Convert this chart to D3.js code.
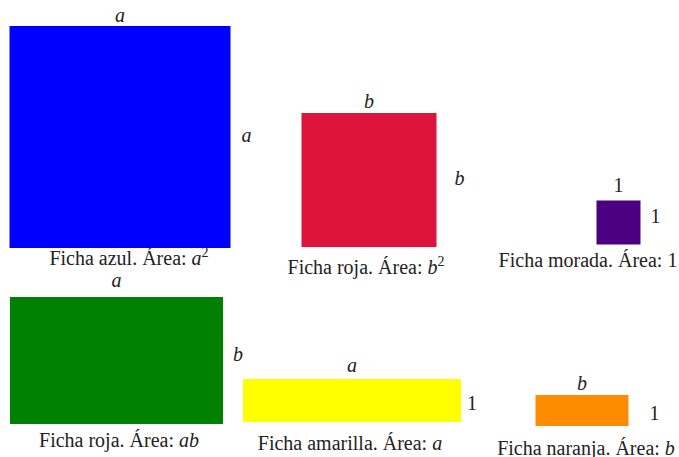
<!DOCTYPE html>
<html>
<head>
<meta charset="utf-8">
<script src="https://cdn.jsdelivr.net/npm/d3@7"></script>
<style>
  body { margin: 0; background: #fff; }
  svg { display: block; }
  text { font-family: "Liberation Serif", "Times New Roman", serif; fill: #222; }
  .var { font-style: italic; }
</style>
</head>
<body>
<svg id="chart" width="679" height="457"></svg>
<script>
// fichas (tiles) de algebra
var nombres = ["Ficha azul", "Ficha roja", "Ficha morada", "Ficha roja", "Ficha amarilla", "Ficha naranja"];
var colores = ["#0000ff", "#dc143c", "#4b0082", "#008000", "#ffff00", "#ff8c00"];
var anchos = [221, 135, 44, 213, 218, 93];
var altos = [222, 134, 44, 127, 43, 31];
var ladoSup = ["a", "b", "1", "a", "a", "b"];
var ladoDer = ["a", "b", "1", "b", "1", "1"];
var areaVar = ["a", "b", "1", "ab", "a", "b"];
var areaExp = ["2", "2", "", "", "", ""];

// layout: left, top of each tile, label offsets, caption position
var posX = [9.5, 301.5, 596.5, 10, 243, 535.5];
var posY = [26, 113, 200.5, 297, 379, 395];
var supDy = [4, 5, 9, 10, 7, 5];
var derDx = [11, 18, 10, 10, 6, 21];
var derDy = [-2, -2, -7, -7, 2, 2];
var capX = [129, 366, 588, 119, 350, 586];
var capY = [265, 274, 267, 447, 450, 455];

var svg = d3.select("#chart");
var s = d3.scaleLinear().domain([0, 1]).range([0, 1]);

var fichas = nombres.map(function(n, i) {
    return {nombre: n, color: colores[i], w: anchos[i], h: altos[i], sup: ladoSup[i], der: ladoDer[i],
            area: areaVar[i], exp: areaExp[i], x: posX[i], y: posY[i], i: i};
});

var g = svg.selectAll("g.ficha")
    .data(fichas)
    .enter().append("g")
    .attr("class", "ficha");

g.append("rect")
    .attr("x", function(d) { return s(d.x); })
    .attr("y", function(d) { return s(d.y); })
    .attr("width", function(d) { return s(d.w); })
    .attr("height", function(d) { return s(d.h); })
    .attr("fill", function(d) { return d.color; });

// top side label
g.append("text")
    .attr("class", function(d) { return d.sup === "1" ? "" : "var"; })
    .attr("x", function(d) { return s(d.x + d.w / 2); })
    .attr("y", function(d) { return s(d.y) - supDy[d.i]; })
    .attr("text-anchor", "middle")
    .style("font-size", "20px")
    .text(function(d) { return d.sup; });

// right side label
g.append("text")
    .attr("class", function(d) { return d.der === "1" ? "" : "var"; })
    .attr("x", function(d) { return s(d.x + d.w) + derDx[d.i]; })
    .attr("y", function(d) { return s(d.y + d.h / 2) + derDy[d.i]; })
    .attr("dy", "0.35em")
    .style("font-size", "20px")
    .text(function(d) { return d.der; });

// caption
var cap = g.append("text")
    .attr("x", function(d) { return capX[d.i]; })
    .attr("y", function(d) { return capY[d.i]; })
    .attr("text-anchor", "middle")
    .style("font-size", "20px");

cap.append("tspan")
    .text(function(d) { return d.nombre + ". Área: "; });
cap.append("tspan")
    .attr("class", function(d) { return d.area === "1" ? "" : "var"; })
    .text(function(d) { return d.area; });
cap.filter(function(d) { return d.exp !== ""; })
    .append("tspan")
    .attr("dy", -8)
    .style("font-size", "14px")
    .text(function(d) { return d.exp; });
</script>
</body>
</html>
